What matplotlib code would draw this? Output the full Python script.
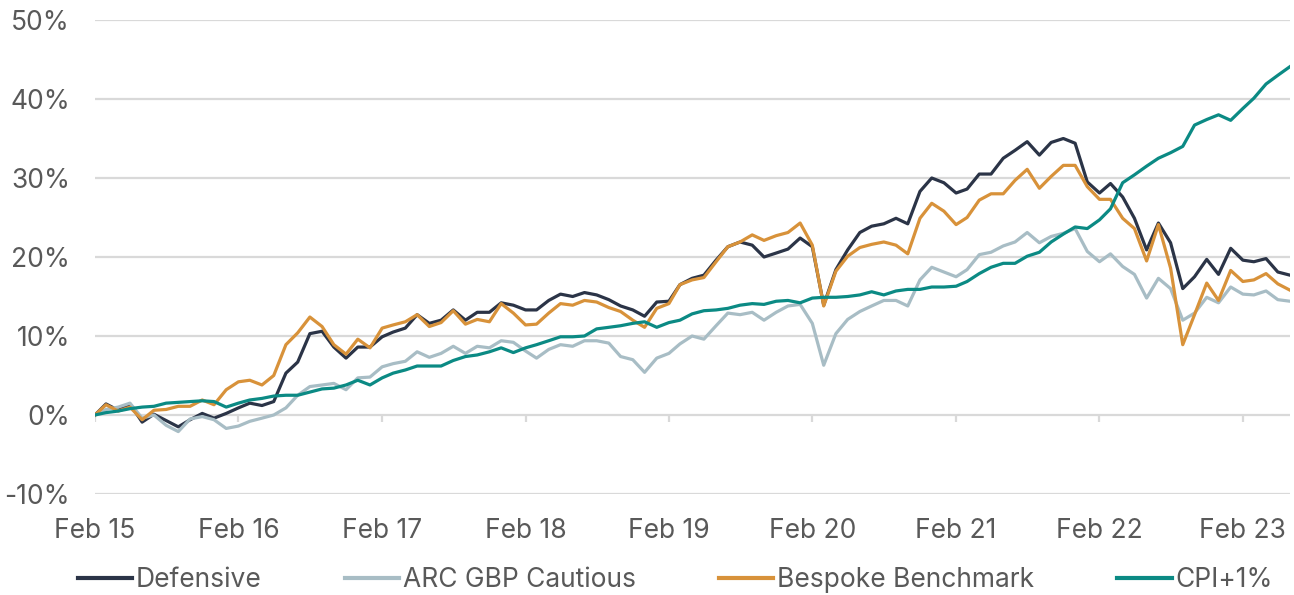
import pandas as pd
import matplotlib
matplotlib.use("Agg")
from matplotlib import pyplot as plt

# monthly cumulative returns (%), Feb 2015 -> Jun 2023
defensive = [0, 1.4, 0.6, 1.4, -0.9, 0.1, -0.7, -1.5, -0.6, 0.2, -0.4, 0.2, 0.9, 1.5, 1.2, 1.7,
             5.3, 6.7, 10.3, 10.6, 8.6, 7.2, 8.6, 8.6, 9.9, 10.5, 11.0, 12.7, 11.6, 12.0, 13.3, 12.0,
             13.0, 13.0, 14.2, 13.9, 13.3, 13.3, 14.5, 15.3, 15.0, 15.5, 15.2, 14.6, 13.8, 13.3, 12.5,
             14.3, 14.4, 16.5, 17.3, 17.7, 19.6, 21.3, 21.9, 21.5, 20.0, 20.5, 21.0, 22.4, 21.3, 13.9,
             18.4, 20.9, 23.1, 23.9, 24.2, 24.9, 24.2, 28.3, 30.0, 29.4, 28.1, 28.6, 30.5, 30.5, 32.5,
             33.5, 34.6, 32.9, 34.5, 35.0, 34.4, 29.5, 28.1, 29.3, 27.6, 24.9, 20.9, 24.3, 21.8, 16.0,
             17.5, 19.7, 17.8, 21.1, 19.6, 19.4, 19.8, 18.1, 17.7]
arc_cautious = [0, 0.7, 1.0, 1.5, -0.4, 0.0, -1.3, -2.1, -0.5, -0.2, -0.6, -1.7, -1.4, -0.8, -0.4, 0.0,
                0.9, 2.5, 3.6, 3.8, 4.0, 3.2, 4.7, 4.8, 6.1, 6.5, 6.8, 8.0, 7.3, 7.8, 8.7, 7.8,
                8.7, 8.5, 9.4, 9.2, 8.1, 7.2, 8.3, 8.9, 8.7, 9.4, 9.4, 9.1, 7.4, 7.0, 5.4,
                7.2, 7.8, 9.0, 10.0, 9.6, 11.3, 12.9, 12.7, 13.0, 12.0, 13.0, 13.8, 14.0, 11.6, 6.3,
                10.3, 12.1, 13.1, 13.8, 14.5, 14.5, 13.8, 17.1, 18.7, 18.1, 17.5, 18.4, 20.3, 20.6, 21.4,
                21.9, 23.1, 21.8, 22.6, 23.0, 23.6, 20.7, 19.4, 20.4, 18.8, 17.8, 14.8, 17.3, 16.0, 12.0,
                12.9, 14.9, 14.2, 16.2, 15.3, 15.2, 15.7, 14.6, 14.4]
bespoke = [0, 1.3, 0.5, 1.0, -0.6, 0.6, 0.7, 1.1, 1.1, 1.9, 1.3, 3.2, 4.2, 4.4, 3.8, 5.0,
           8.9, 10.4, 12.4, 11.2, 8.9, 7.7, 9.6, 8.5, 11.0, 11.4, 11.8, 12.7, 11.2, 11.7, 13.2, 11.5,
           12.1, 11.8, 14.1, 12.9, 11.4, 11.5, 12.9, 14.1, 13.9, 14.5, 14.3, 13.6, 13.1, 12.0, 11.1,
           13.5, 14.1, 16.5, 17.1, 17.4, 19.4, 21.3, 21.9, 22.8, 22.1, 22.7, 23.1, 24.3, 21.5, 13.8,
           18.2, 20.1, 21.2, 21.6, 21.9, 21.5, 20.4, 24.9, 26.8, 25.8, 24.1, 25.0, 27.2, 28.0, 28.0,
           29.7, 31.1, 28.7, 30.2, 31.6, 31.6, 28.9, 27.3, 27.3, 24.9, 23.6, 19.5, 24.1, 18.6, 8.9,
           12.7, 16.7, 14.5, 18.3, 16.9, 17.1, 17.9, 16.6, 15.8]
cpi_plus1 = [0, 0.3, 0.5, 0.8, 1.0, 1.1, 1.5, 1.6, 1.7, 1.8, 1.7, 1.0, 1.5, 1.9, 2.1, 2.4,
             2.5, 2.5, 2.9, 3.3, 3.4, 3.8, 4.4, 3.8, 4.7, 5.3, 5.7, 6.2, 6.2, 6.2, 6.9, 7.4,
             7.6, 8.0, 8.5, 7.9, 8.5, 8.9, 9.4, 9.9, 9.9, 10.0, 10.9, 11.1, 11.3, 11.6, 11.8,
             11.1, 11.7, 12.0, 12.8, 13.2, 13.3, 13.5, 13.9, 14.1, 14.0, 14.4, 14.5, 14.2, 14.8, 14.9,
             14.9, 15.0, 15.2, 15.6, 15.2, 15.7, 15.9, 15.9, 16.2, 16.2, 16.3, 16.9, 17.9, 18.7, 19.2,
             19.2, 20.1, 20.6, 21.9, 22.9, 23.8, 23.6, 24.7, 26.1, 29.4, 30.4, 31.5, 32.5, 33.2, 34.0,
             36.7, 37.4, 38.0, 37.3, 38.8, 40.1, 41.9, 43.0, 44.1]

series_names = ["Defensive", "ARC GBP Cautious", "Bespoke Benchmark", "CPI+1%"]
colors = ["#2b3447", "#a8bdc5", "#d8923a", "#0b8a84"]
year_labels = ["Feb 15", "Feb 16", "Feb 17", "Feb 18", "Feb 19", "Feb 20", "Feb 21", "Feb 22", "Feb 23"]

dates = pd.date_range("2015-02-01", periods=len(defensive), freq="MS")
year_ticks = pd.date_range("2015-02-01", periods=len(year_labels), freq="12MS")

plt.rcParams["font.family"] = ["Inter", "DejaVu Sans"]
txt_col = "#595959"
grid_col = "#d9d9d9"
fs = 19

fig = plt.figure(figsize=(12.94, 5.95), dpi=100)
ax = fig.add_axes([95 / 1294, 101 / 595, 1195 / 1294, 474 / 595])

for vals, name, c in zip([defensive, arc_cautious, bespoke, cpi_plus1], series_names, colors):
    ax.plot(dates, vals, color=c, lw=2.3, label=name, zorder=3)

ax.set_xlim(dates[0], dates[-1])
ax.set_ylim(-10, 50)
ax.set_yticks(range(-10, 51, 10))
ax.set_yticklabels([f"{v}%" for v in range(-10, 51, 10)])
ax.grid(axis="y", color=grid_col, lw=1.6, zorder=0)
ax.set_axisbelow(True)
for s in ax.spines.values():
    s.set_visible(False)

ax.set_xticks(year_ticks)
ax.set_xticklabels(year_labels)
ax.tick_params(axis="x", length=0, pad=17, labelsize=fs, labelcolor=txt_col)
ax.tick_params(axis="y", length=0, pad=18, labelsize=fs, labelcolor=txt_col)

# small tick marks hanging from the 0% line
ax.vlines(year_ticks, -0.9, 0, color=grid_col, lw=1.6, zorder=1)

fig.legend(loc="center left", bbox_to_anchor=(78 / 1294, 15 / 595), ncol=4, frameon=False,
           fontsize=fs, labelcolor=txt_col, handlelength=2.05, handletextpad=0.15,
           columnspacing=3.15, borderpad=0, borderaxespad=0)
for line in fig.legends[0].get_lines():
    line.set_linewidth(3)

fig.savefig("out.png", dpi=100)
